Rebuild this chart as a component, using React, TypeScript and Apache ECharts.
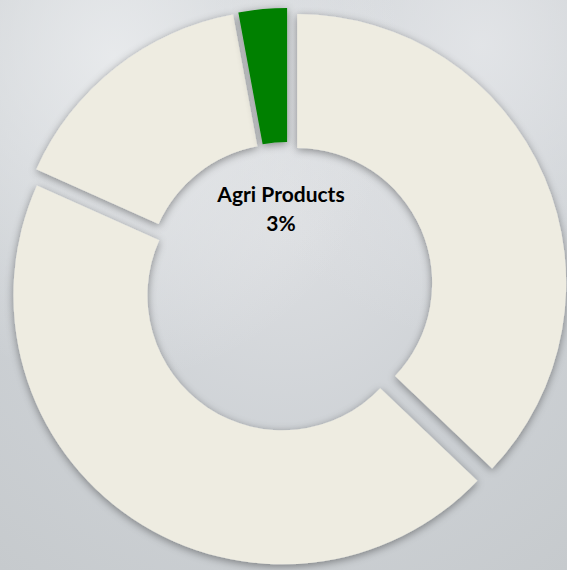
import React, { useEffect, useRef } from "react";
import * as echarts from "echarts";

const categories = ["Segment A", "Segment B", "Segment C", "Agri Products"];
const values = [37.1, 44.6, 15.4, 2.9];
const sliceColors = ["#EEECE1", "#EEECE1", "#EEECE1", "#008000"];
const labelledIndex = 3;

export default function App() {
  const ref = useRef<HTMLDivElement>(null);
  useEffect(() => {
    document.body.style.margin = "0";
    const chart = echarts.init(ref.current!, null, { renderer: "svg" });
    const total = values.reduce((a, b) => a + b, 0);
    const labelText = `${categories[labelledIndex]}\n${Math.round(
      (values[labelledIndex] / total) * 100
    )}%`;
    chart.setOption({
      animation: false,
      backgroundColor: "transparent",
      graphic: [
        {
          type: "text",
          x: 281,
          y: 208,
          z: 100,
          silent: true,
          style: {
            text: labelText,
            fontFamily: "Lato",
            fontWeight: "bold",
            fontSize: 21,
            lineHeight: 29,
            fill: "#000",
            align: "center",
            verticalAlign: "middle",
          },
        },
      ],
      series: [
        {
          type: "pie",
          center: [288, 287],
          radius: [135, 269],
          startAngle: 90,
          clockwise: true,
          selectedMode: "multiple",
          selectedOffset: 10,
          silent: true,
          itemStyle: {
            shadowBlur: 9,
            shadowColor: "rgba(0,0,0,0.4)",
            shadowOffsetX: 0,
            shadowOffsetY: 2,
          },
          label: { show: false },
          labelLine: { show: false },
          data: categories.map((name, i) => ({
            name,
            value: values[i],
            selected: true,
            itemStyle: { color: sliceColors[i] },
          })),
        },
      ],
    });
    return () => chart.dispose();
  }, []);
  return (
    <div
      ref={ref}
      style={{
        width: 567,
        height: 570,
        background:
          "radial-gradient(ellipse at 20% 10%, rgba(234,236,238,0.9) 0%, rgba(234,236,238,0) 45%), radial-gradient(ellipse at 85% 8%, rgba(228,230,233,0.9) 0%, rgba(228,230,233,0) 40%), radial-gradient(circle at 50% 40%, #dcdee1 0%, #cdd1d5 55%, #c6cacd 100%)",
      }}
    />
  );
}
